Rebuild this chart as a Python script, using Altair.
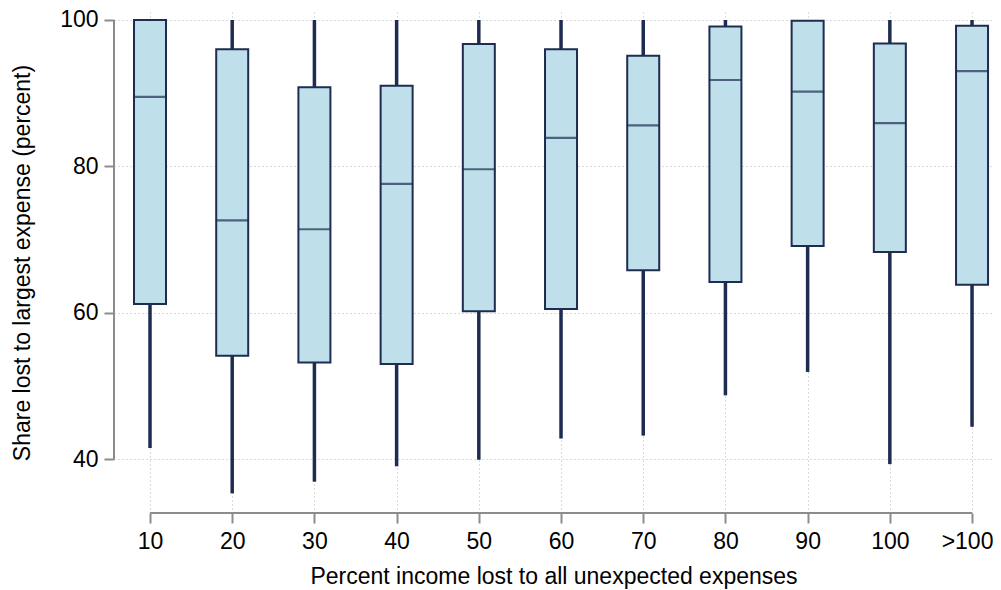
import altair as alt
import pandas as pd

labels = ["10", "20", "30", "40", "50", "60", "70", "80", "90", "100", ">100"]
lo = [41.5, 35.3, 36.9, 39.0, 39.9, 42.8, 43.2, 48.7, 51.9, 39.3, 44.4]
q1 = [61.2, 54.1, 53.2, 53.0, 60.2, 60.5, 65.8, 64.2, 69.1, 68.3, 63.8]
med = [89.5, 72.6, 71.4, 77.6, 79.6, 83.9, 85.6, 91.8, 90.2, 85.9, 93.0]
q3 = [100.0, 96.0, 90.8, 91.0, 96.7, 96.0, 95.1, 99.1, 99.9, 96.8, 99.2]
hi = [100.0, 100.0, 100.0, 100.0, 100.0, 100.0, 100.0, 100.0, 100.0, 100.0, 100.0]
y_ticks = [40, 60, 80, 100]

df = pd.DataFrame({
    "idx": list(range(len(labels))),
    "label": labels,
    "lo": lo, "q1": q1, "med": med, "q3": q3, "hi": hi,
})

XMIN, XMAX = -0.438, 10.255
YMIN, YMAX = 32.62, 101.09
NAVY = "#1e2c52"
FILL = "#bfe0ea"
AXIS_GRAY = "#8c8c8c"
FONT = "Liberation Sans"

label_expr = "[" + ",".join("'%s'" % l for l in labels) + "][datum.value]"
last_idx = len(labels) - 1

xscale = alt.Scale(domain=[XMIN, XMAX], nice=False, zero=False, padding=0)
yscale = alt.Scale(domain=[YMIN, YMAX], nice=False, zero=False, padding=0)

xaxis = alt.Axis(
    values=list(range(len(labels))), labelExpr=label_expr,
    title="Percent income lost to all unexpected expenses",
    grid=True, gridDash=[1, 3], gridColor="#b5b5b5", gridWidth=1,
    domain=False, ticks=True, tickSize=10, tickWidth=2, tickColor=AXIS_GRAY,
    labelFontSize=23, labelFont=FONT, labelColor="#000000", labelPadding=7,
    labelOffset=alt.expr("datum.value == %d ? -5 : 0" % last_idx),
    labelFlush=False, labelOverlap=False,
    titleFontSize=23, titleFont=FONT, titleFontWeight="normal", titleColor="#000000",
    titlePadding=12,
)
yaxis = alt.Axis(
    values=y_ticks, title="Share lost to largest expense (percent)",
    grid=True, gridDash=[1, 3], gridColor="#b5b5b5", gridWidth=1,
    domain=False, ticks=True, tickSize=10, tickWidth=2, tickColor=AXIS_GRAY,
    labelFontSize=23, labelFont=FONT, labelColor="#000000", labelPadding=6,
    labelFlush=False, labelOverlap=False,
    titleFontSize=23, titleFont=FONT, titleFontWeight="normal", titleColor="#000000",
    titlePadding=25,
)

base = alt.Chart(df)

whisk_lo = base.mark_rule(strokeWidth=3.5, color=NAVY).encode(
    x=alt.X("idx:Q", scale=xscale, axis=xaxis),
    y=alt.Y("lo:Q", scale=yscale, axis=yaxis),
    y2="q1:Q",
)
whisk_hi = base.mark_rule(strokeWidth=3.5, color=NAVY).encode(
    x=alt.X("idx:Q", scale=xscale, axis=xaxis),
    y=alt.Y("q3:Q", scale=yscale, axis=yaxis),
    y2="hi:Q",
)
boxes = base.mark_bar(size=32, fill=FILL, stroke=NAVY, strokeWidth=2).encode(
    x=alt.X("idx:Q", scale=xscale, axis=xaxis),
    y=alt.Y("q1:Q", scale=yscale, axis=yaxis),
    y2="q3:Q",
)
medians = base.mark_tick(orient="horizontal", size=33, thickness=2.2, color=NAVY).encode(
    x=alt.X("idx:Q", scale=xscale, axis=xaxis),
    y=alt.Y("med:Q", scale=yscale, axis=yaxis),
)

one = alt.Chart(pd.DataFrame({"k": [0]}))
yline = one.mark_rule(strokeWidth=2, color=AXIS_GRAY).encode(
    x=alt.X(datum=XMIN, type="quantitative", scale=xscale, axis=xaxis),
    y=alt.Y(datum=y_ticks[0], type="quantitative", scale=yscale, axis=yaxis),
    y2=alt.Y2(datum=y_ticks[-1]),
)
xline = one.mark_rule(strokeWidth=2, color=AXIS_GRAY).encode(
    y=alt.Y(datum=YMIN, type="quantitative", scale=yscale, axis=yaxis),
    x=alt.X(datum=0, type="quantitative", scale=xscale, axis=xaxis),
    x2=alt.X2(datum=last_idx),
)

chart = alt.layer(whisk_lo, whisk_hi, boxes, medians, yline, xline).properties(
    width=879, height=501,
    autosize=alt.AutoSizeParams(type="none"),
    padding={"left": 106, "top": 4, "right": 0, "bottom": 77},
    background="white",
).configure_view(stroke=None)

chart.save("out.html", embed_options={"renderer": "svg", "actions": False})
